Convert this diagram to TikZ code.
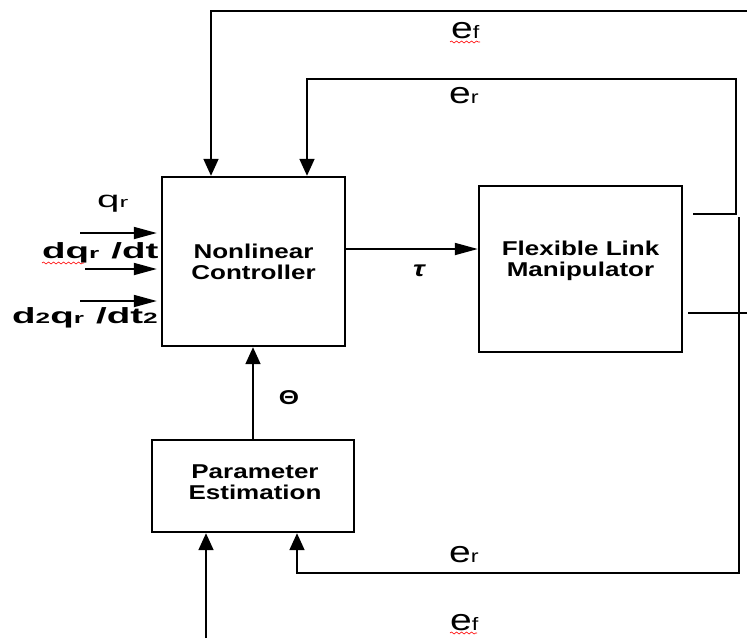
\documentclass[tikz,border=0pt]{standalone}
\usepackage{fontspec}
\usetikzlibrary{arrows.meta,decorations.pathmorphing}
\setmainfont[FakeStretch=1.3]{Liberation Sans}
\newfontfamily\flexWideFont[FakeStretch=1.75]{Liberation Sans}
\newcommand{\flexLow}[1]{{\fontsize{15}{15}\selectfont #1}}
\newcommand{\flexErr}[1]{{\fontsize{30}{30}\selectfont e}{\fontsize{18}{18}\selectfont #1}}
\tikzset{
  block/.style={draw, line width=2.4pt, inner sep=0pt, align=center,
    font=\fontsize{20}{21}\selectfont\bfseries},
  wire/.style={line width=1.8pt},
  varr/.style={wire, -{Triangle[length=17pt,width=15pt]}},
  harr/.style={wire, -{Triangle[length=23pt,width=12pt]}},
  squig/.style={red, line width=0.6pt, decorate,
    decoration={snake, amplitude=1pt, segment length=5pt}}
}

\begin{document}
\begin{tikzpicture}[x=1pt,y=-1pt]
\useasboundingbox (0,0) rectangle (747,638);
\node[block, minimum width=183pt, minimum height=169pt] (ctrl) at (253.5,261.5) {Nonlinear\\Controller};
\node[block, minimum width=203pt, minimum height=166pt] (flm) at (580.5,269) {};
\node[block, draw=none] (flmText) at (580.5,261) {Flexible Link\\Manipulator};
\node[block, minimum width=202pt, minimum height=92pt] (pe) at (253,486) {};
\node[block, draw=none] (peText) at (255,482) {Parameter\\Estimation};
\coordinate (efTopR) at (747,11);
\coordinate (efTopL) at (211,11);
\coordinate (erTopR) at (736,79);
\coordinate (erTopL) at (307,79);
\coordinate (erOutA) at (693,214);
\coordinate (erOutB) at (736,214);
\coordinate (erBotT) at (739,217);
\coordinate (erBotR) at (739,573);
\coordinate (erBotL) at (297,573);
\coordinate (efOutA) at (688,313);
\coordinate (efOutB) at (747,313);
\coordinate (efBot) at (206,638);
\coordinate (tauY) at (0,249);
\coordinate (inA) at (80,233);
\coordinate (inB) at (85,269);
\coordinate (inC) at (80,301);
\draw[varr] (efTopR) -- (efTopL) -- (efTopL |- ctrl.north);
\draw[varr] (erOutA) -- (erOutB) -- (erTopR) -- (erTopL) -- (erTopL |- ctrl.north);
\draw[varr] (erBotT) -- (erBotR) -- (erBotL) -- (erBotL |- pe.south);
\draw[wire] (efOutA) -- (efOutB);
\draw[varr] (efBot) -- (efBot |- pe.south);
\draw[harr] (ctrl.east |- tauY) -- (flm.west |- tauY);
\draw[varr] (pe.north) -- (pe.north |- ctrl.south);
\draw[harr, shorten >=4pt] (inA) -- (inA -| ctrl.west);
\draw[harr, shorten >=4pt] (inB) -- (inB -| ctrl.west);
\draw[harr, shorten >=4pt] (inC) -- (inC -| ctrl.west);
\node[anchor=base west, inner sep=0pt] (qr) at (97,207) {\flexWideFont\fontsize{23}{23}\selectfont q\flexLow{r}};
\node[anchor=base west, inner sep=0pt] (dqr) at (42,258) {\flexWideFont\fontsize{22}{22}\selectfont\bfseries dq\flexLow{r}\hspace{12pt}/dt};
\node[anchor=base west, inner sep=0pt] (ddqr) at (12,323) {\flexWideFont\fontsize{22}{22}\selectfont\bfseries d\flexLow{2}q\flexLow{r}\hspace{12pt}/dt\flexLow{2}};
\node[anchor=base west, inner sep=0pt] (efTop) at (451,38) {\flexErr{f}};
\node[anchor=base west, inner sep=0pt] (erTop) at (449,103) {\flexErr{r}};
\node[anchor=base west, inner sep=0pt] (erBot) at (449,562) {\flexErr{r}};
\node[anchor=base west, inner sep=0pt] (efBotL) at (450,630) {\flexErr{f}};
\node[inner sep=0pt] (tau) at (419,271) {\fontsize{22}{22}\selectfont\bfseries\itshape τ};
\node[inner sep=0pt] (theta) at (289,398) {\fontsize{20}{20}\selectfont\bfseries Θ};
\draw[squig] (42,263) -- (84,263);
\draw[squig] (450,42) -- (480,42);
\draw[squig] (450,633) -- (477,633);
\end{tikzpicture}
\end{document}
